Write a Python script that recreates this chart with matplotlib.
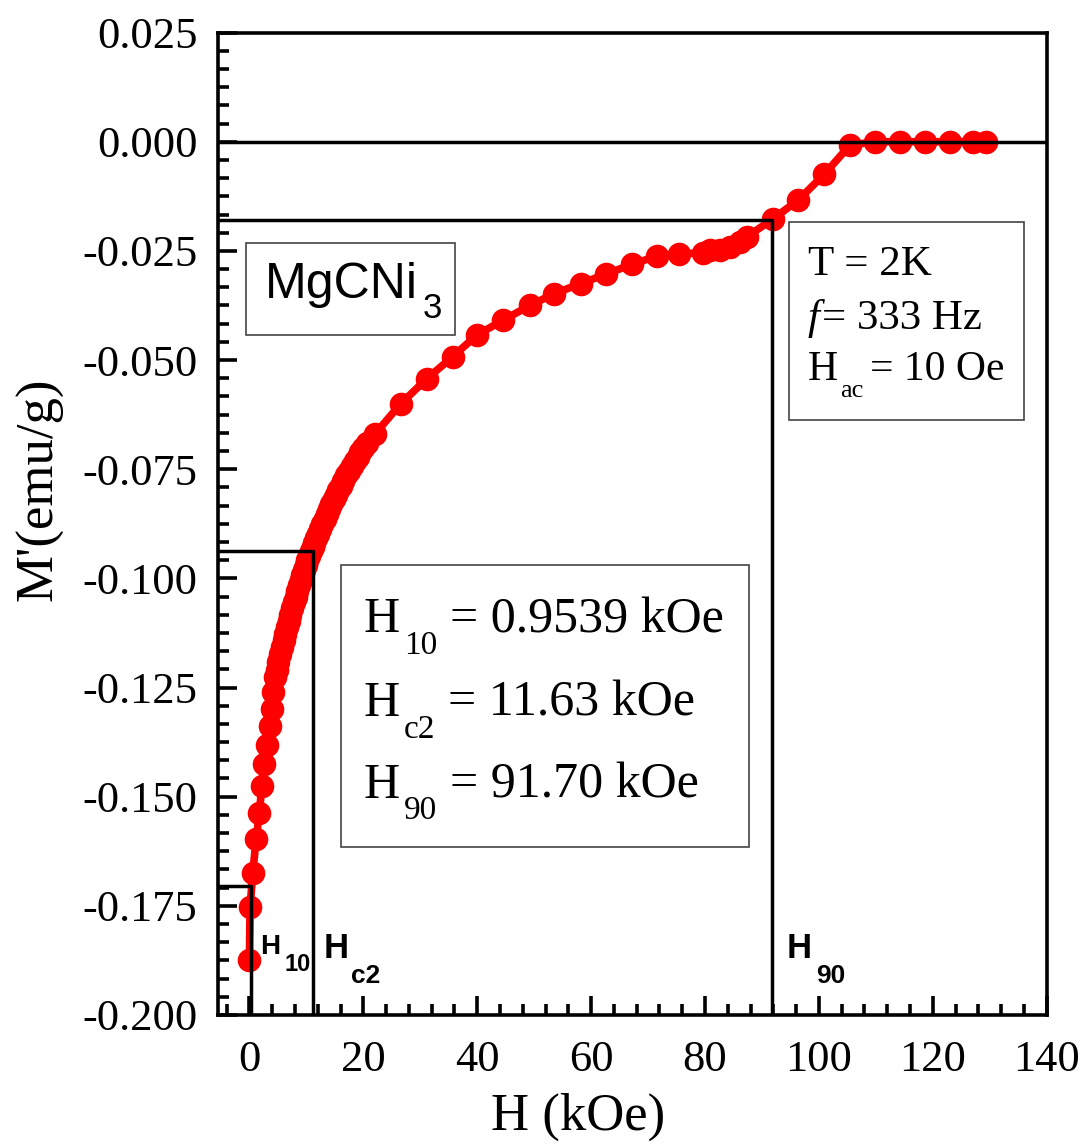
import matplotlib
matplotlib.use("Agg")
import matplotlib.pyplot as plt
from matplotlib.ticker import MultipleLocator, AutoMinorLocator, FuncFormatter
from matplotlib.patches import Rectangle

plt.rcParams['axes.unicode_minus'] = False

# M'(H) at T = 2K
field = [0.0, 0.12, 0.60, 1.18, 1.76, 2.18, 2.58, 3.05, 3.63, 3.93, 4.21, 4.51,
         4.8, 5.1, 5.4, 5.7, 6.0, 6.3, 6.6, 6.9, 7.2, 7.5, 7.8, 8.1, 8.4, 8.7,
         9.0, 9.3, 9.6, 9.9, 10.2, 10.5, 10.8, 11.1, 11.4, 11.7, 12.0, 12.4,
         12.8, 13.2, 13.6, 14.0, 14.4, 14.8, 15.2, 15.6, 16.0, 16.5, 17.0, 17.5,
         18.0, 18.5, 19.0, 19.5, 20.0, 20.6,
         22.07, 26.58, 31.14, 35.71, 39.92, 44.49, 49.28, 53.49, 58.18, 62.62,
         67.13, 71.52, 75.49, 79.71, 80.88, 82.63, 84.39, 86.15, 87.32, 92.0,
         96.33, 100.97, 105.43, 109.8, 114.17, 118.6, 123.0, 127.0, 129.3]
moment = [-0.1875, -0.1753, -0.1674, -0.1598, -0.1537, -0.1475, -0.1426, -0.1381,
          -0.1338, -0.1300, -0.1261, -0.1227,
          -0.1209, -0.1191, -0.1174, -0.1158, -0.1142, -0.1127, -0.1112, -0.1097,
          -0.1083, -0.1069, -0.1055, -0.1042, -0.1029, -0.1016, -0.1004, -0.0992,
          -0.0981, -0.0970, -0.0959, -0.0948, -0.0938, -0.0928, -0.0918, -0.0908,
          -0.0899, -0.0887, -0.0875, -0.0863, -0.0852, -0.0841, -0.0830, -0.0819,
          -0.0808, -0.0798, -0.0788, -0.0776, -0.0764, -0.0753, -0.0742, -0.0731,
          -0.0721, -0.0711, -0.0701, -0.0689,
          -0.0669, -0.0600, -0.0543, -0.0492, -0.0443, -0.0409, -0.0375, -0.0348,
          -0.0325, -0.0303, -0.0281, -0.0262, -0.0256, -0.0255, -0.0248, -0.0247,
          -0.0241, -0.0229, -0.0218, -0.0176, -0.0134, -0.0074, -0.0008, 0.0,
          0.0, 0.0, 0.0, 0.0, 0.0]

# guide lines for H10, Hc2, H90
h10_x, h10_y = 0.3, -0.1705
hc2_x, hc2_y = 11.1, -0.0937
h90_x, h90_y = 91.7, -0.018

results = [("H", "10", "= 0.9539 kOe"),
           ("H", "c2", "= 11.63 kOe"),
           ("H", "90", "= 91.70 kOe")]

serif = "Liberation Serif"
sans = "Liberation Sans"

fig = plt.figure(figsize=(10.89, 11.44), dpi=100)
ax = fig.add_axes([0.2005, 0.1128, 0.7607, 0.8587])

xmin, xmax = -5.45, 140
ymin, ymax = -0.2, 0.025
ax.set_xlim(xmin, xmax)
ax.set_ylim(ymin, ymax)

ax.plot(field, moment, color='#ff0000', lw=5.5, marker='o', markersize=17,
        markeredgewidth=0, zorder=3)

# guide lines (drawn on top of the curve)
lk = dict(color='k', lw=2.5, zorder=4)
ax.axhline(0, **lk)
ax.plot([xmin, h10_x, h10_x], [h10_y, h10_y, ymin], **lk)
ax.plot([xmin, hc2_x, hc2_x], [hc2_y, hc2_y, ymin], **lk)
ax.plot([xmin, h90_x, h90_x], [h90_y, h90_y, ymin], **lk)

# axes style
for s in ax.spines.values():
    s.set_linewidth(2.6)
ax.xaxis.set_major_locator(MultipleLocator(20))
ax.xaxis.set_minor_locator(AutoMinorLocator(5))
ax.yaxis.set_major_locator(MultipleLocator(0.025))
ax.yaxis.set_minor_locator(AutoMinorLocator(6))
ax.yaxis.set_major_formatter(FuncFormatter(lambda v, p: "0.000" if abs(v) < 1e-9 else f"{v:.3f}"))
ax.tick_params(which='both', direction='in', width=2.6, top=False, right=False)
ax.tick_params(which='major', length=14)
ax.tick_params(which='minor', length=8)
ax.tick_params(axis='y', which='major', pad=15, labelsize=32)
ax.tick_params(axis='x', which='major', pad=18, labelsize=32)
for lab in ax.get_xticklabels() + ax.get_yticklabels():
    lab.set_fontfamily(serif)

ax.set_xlabel("H (kOe)", fontsize=38, family=serif)
ax.set_ylabel("M'(emu/g)", fontsize=38, family=serif)
ax.xaxis.set_label_coords(0.434, -0.079)
ax.yaxis.set_label_coords(-0.187, 0.535)


def sub_label(x, y, base, sub, rest, size, sub_size, drop, gap, rest_gap,
              family, weight='normal', style='normal'):
    t = ax.text(x, y, base, fontsize=size, family=family, weight=weight,
                style=style, ha='left', va='baseline', zorder=5)
    s = ax.annotate(sub, xy=(1, y), xycoords=(t, 'data'), xytext=(gap, -drop),
                    textcoords='offset points', fontsize=sub_size, family=family,
                    weight=weight, ha='left', va='baseline', zorder=5)
    if rest:
        ax.annotate(rest, xy=(1, y), xycoords=(s, 'data'), xytext=(rest_gap, 0),
                    textcoords='offset points', fontsize=size, family=family,
                    ha='left', va='baseline', zorder=5)


# sample box
ax.add_patch(Rectangle((-0.58, -0.0443), 36.68, 0.021, fill=False,
                       edgecolor='#444444', lw=1.2, zorder=5))
sub_label(2.76, -0.0359, "MgCNi", "3", None, 36, 25, 14.4, 3, 0, sans)

# result box
ax.add_patch(Rectangle((16.05, -0.16147), 71.68, 0.06461, fill=False,
                       edgecolor='#444444', lw=1.2, zorder=5))
for (b, sb, rest), yy in zip(results, [-0.11239, -0.13149, -0.15023]):
    sub_label(20.01, yy, b, sb, rest, 36, 24, 15.6, 3, 9.5, serif)

# conditions box
ax.add_patch(Rectangle((94.66, -0.06367), 41.34, 0.04532, fill=False,
                       edgecolor='#444444', lw=1.2, zorder=5))
ax.text(98.03, -0.03057, "T = 2K", fontsize=31, family=serif, va='baseline', zorder=5)
ft = ax.text(98.03, -0.0428, "f", fontsize=31, family=serif, style='italic',
             va='baseline', zorder=5)
ax.annotate("= 333 Hz", xy=(1, -0.0428), xycoords=(ft, 'data'), xytext=(2, 0),
            textcoords='offset points', fontsize=31, family=serif, va='baseline', zorder=5)
sub_label(98.03, -0.05466, "H", "ac", "= 10 Oe", 30, 19, 12, 1.5, 5, serif)

# field markers near the bottom axis
sub_label(1.88, -0.1861, "H", "10", None, 20, 17, 12, 3, 0, sans, weight='bold')
sub_label(13.1, -0.1869, "H", "c2", None, 25, 19, 18, 1.5, 0, sans, weight='bold')
sub_label(94.3, -0.1869, "H", "90", None, 25, 19, 18, 3.5, 0, sans, weight='bold')

fig.savefig("out.png", dpi=100)
